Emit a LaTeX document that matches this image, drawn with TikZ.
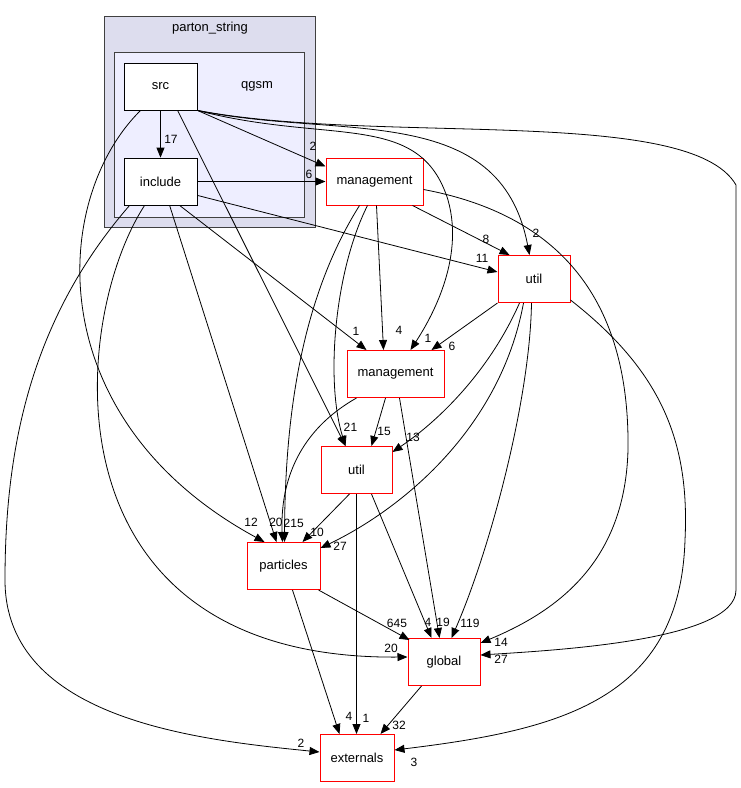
\documentclass[tikz,border=0pt]{standalone}
\usepackage{fontspec}
\setmainfont{Liberation Sans}
\usetikzlibrary{arrows.meta,calc}
\definecolor{clout}{HTML}{DDDDEE}
\definecolor{clin}{HTML}{EEEEFF}
\definecolor{clborder}{HTML}{404040}
\begin{document}
\begin{tikzpicture}[x=1pt,y=-1pt,
  dnode/.style={draw=red, line width=1pt, fill=white, inner sep=0pt, minimum height=47pt, font=\fontsize{13}{15}\selectfont},
  inode/.style={draw=black, line width=0.8pt, fill=white, inner sep=0pt, minimum width=73pt, minimum height=47pt, font=\fontsize{13}{15}\selectfont},
  cluster/.style={draw=clborder, line width=0.8pt, inner sep=0pt},
  e/.style={-{Triangle[length=10pt,width=8pt]}, line width=0.8pt},
  lab/.style={font=\fontsize{12}{14}\selectfont, inner sep=0pt},
  ttl/.style={font=\fontsize{13}{15}\selectfont, inner sep=0pt}]
\useasboundingbox (0,0) rectangle (741,788);
\fill[white] (0,0) rectangle (741,788);
% clusters
\node[cluster, fill=clout, minimum width=211pt, minimum height=211pt] (outer) at (209.5,121.5) {};
\node[ttl] (outerlab) at (210,28) {parton\_string};
\node[cluster, fill=clin, minimum width=190pt, minimum height=165pt] (inner) at (209,134.5) {};
\node[ttl] (innerlab) at (257,86) {qgsm};
% nodes
\node[inode] (src) at (160.5,86.5) {src};
\node[inode] (include) at (160.5,181.5) {include};
\node[dnode, minimum width=97pt] (mg1) at (374.5,181.5) {management};
\node[dnode, minimum width=72pt] (util1) at (534,279) {util};
\node[dnode, minimum width=97pt] (mg2) at (395.5,374) {management};
\node[dnode, minimum width=71pt] (util2) at (356.5,470) {util};
\node[dnode, minimum width=73pt] (particles) at (283.5,566) {particles};
\node[dnode, minimum width=72pt] (global) at (444,662) {global};
\node[dnode, minimum width=74pt] (externals) at (357,758) {externals};
% edges from src
\draw[e] (src) -- (include);
\draw[e] (src.south east) -- ($(mg1.north west)+(0,9)$);
\draw[e] (src.south east) .. controls (340,140) and (500,100) .. ($(util1.north west)+(32,0)$);
\draw[e] (src.south east) .. controls (330,145) and (420,110) .. (448,200) .. controls (465,260) and (430,320) .. ($(mg2.north west)+(64,0)$);
\draw[e] (src.south east) .. controls (380,145) and (690,105) .. (736,185) -- (736,590) .. controls (736,640) and (560,650) .. ($(global.east)+(0,-7)$);
\draw[e] ($(src.south west)+(17,0)$) .. controls (50,200) and (40,420) .. ($(particles.north west)+(18,0)$);
\draw[e] ($(src.south west)+(54,0)$) -- ($(util2.north west)+(25,0)$);
% edges from include
\draw[e] (include.east) -- (mg1.west);
\draw[e] ($(include.south east)+(0,-10)$) -- ($(util1.north west)+(0,17)$);
\draw[e] ($(include.south west)+(56,0)$) -- ($(mg2.north west)+(20,0)$);
\draw[e] ($(include.south west)+(46,0)$) -- ($(particles.north west)+(30,0)$);
\draw[e] ($(include.south west)+(21,0)$) .. controls (70,320) and (40,660) .. ($(global.west)+(0,-5)$);
\draw[e] ($(include.south west)+(6,0)$) .. controls (30,320) and (5,450) .. (5,580) .. controls (5,720) and (200,740) .. ($(externals.west)+(0,-6)$);
% edges from management (top)
\draw[e] ($(mg1.south west)+(87,0)$) -- ($(util1.north west)+(12,0)$);
\draw[e] ($(mg1.south west)+(51,0)$) -- ($(mg2.north west)+(37,0)$);
\draw[e] ($(mg1.east)+(0,8)$) .. controls (560,215) and (630,300) .. (628,450) .. controls (625,560) and (560,610) .. ($(global.north east)+(0,5)$);
\draw[e] ($(mg1.south west)+(34,0)$) .. controls (300,300) and (285,420) .. ($(particles.north west)+(38,0)$);
\draw[e] ($(mg1.south west)+(42,0)$) .. controls (335,270) and (325,380) .. ($(util2.north west)+(25,0)$);
% edges from management (middle)
\draw[e] ($(mg2.south west)+(10,0)$) .. controls (300,430) and (280,480) .. ($(particles.north west)+(36,0)$);
\draw[e] ($(mg2.south west)+(39,0)$) -- ($(util2.north west)+(51,0)$);
\draw[e] ($(mg2.south west)+(53,0)$) -- ($(global.north west)+(32,0)$);
% edges from util (right)
\draw[e] (util1.south west) -- ($(mg2.north west)+(85,0)$);
\draw[e] ($(util1.south west)+(22,0)$) .. controls (490,370) and (440,420) .. ($(util2.north east)+(0,6)$);
\draw[e] ($(util1.south west)+(26,0)$) .. controls (500,430) and (400,510) .. ($(particles.north east)+(0,6)$);
\draw[e] ($(util1.south west)+(34,0)$) .. controls (530,400) and (490,550) .. ($(global.north west)+(44,0)$);
\draw[e] ($(util1.south east)+(0,-3)$) .. controls (660,370) and (690,440) .. (685,540) .. controls (680,700) and (560,730) .. ($(externals.east)+(0,-8)$);
% edges from util (middle)
\draw[e] ($(util2.south west)+(29,0)$) -- ($(particles.north west)+(56,0)$);
\draw[e] ($(util2.south west)+(36,0)$) -- ($(externals.north west)+(37,0)$);
\draw[e] ($(util2.south west)+(51,0)$) -- ($(global.north west)+(24,0)$);
% other edges
\draw[e] ($(particles.south east)+(-2,0)$) -- ($(global.north west)+(2,2)$);
\draw[e] ($(particles.south west)+(46,0)$) -- ($(externals.north west)+(20,0)$);
\draw[e] ($(global.south west)+(14,0)$) -- ($(externals.north west)+(61,0)$);
% labels
\node[lab] (l1) at (171,139) {17};
\node[lab] (l2) at (313,146) {2};
\node[lab] (l3) at (536,233) {2};
\node[lab] (l4) at (428,338) {1};
\node[lab] (l5) at (501,642) {14};
\node[lab] (l6) at (501,659) {27};
\node[lab] (l7) at (251,522) {12};
\node[lab] (l8) at (347,427) {2};
\node[lab] (l9) at (309,174) {6};
\node[lab] (l10) at (482,258) {11};
\node[lab] (l11) at (356,331) {1};
\node[lab] (l12) at (276,522) {20};
\node[lab] (l13) at (391,648) {20};
\node[lab] (l14) at (301,743) {2};
\node[lab] (l15) at (486,239) {8};
\node[lab] (l16) at (399,330) {4};
\node[lab] (l17) at (354,427) {1};
\node[lab] (l18) at (297,523) {15};
\node[lab] (l19) at (287,523) {2};
\node[lab] (l20) at (384,431) {15};
\node[lab] (l21) at (413,437) {13};
\node[lab] (l22) at (340,546) {27};
\node[lab] (l23) at (428,622) {4};
\node[lab] (l24) at (443,622) {19};
\node[lab] (l25) at (470,623) {119};
\node[lab] (l26) at (317,532) {10};
\node[lab] (l27) at (366,718) {1};
\node[lab] (l28) at (349,716) {4};
\node[lab] (l29) at (399,725) {32};
\node[lab] (l30) at (414,762) {3};
\node[lab] (l31) at (452,346) {6};
\node[lab] (l32) at (397,623) {645};
\end{tikzpicture}
\end{document}
